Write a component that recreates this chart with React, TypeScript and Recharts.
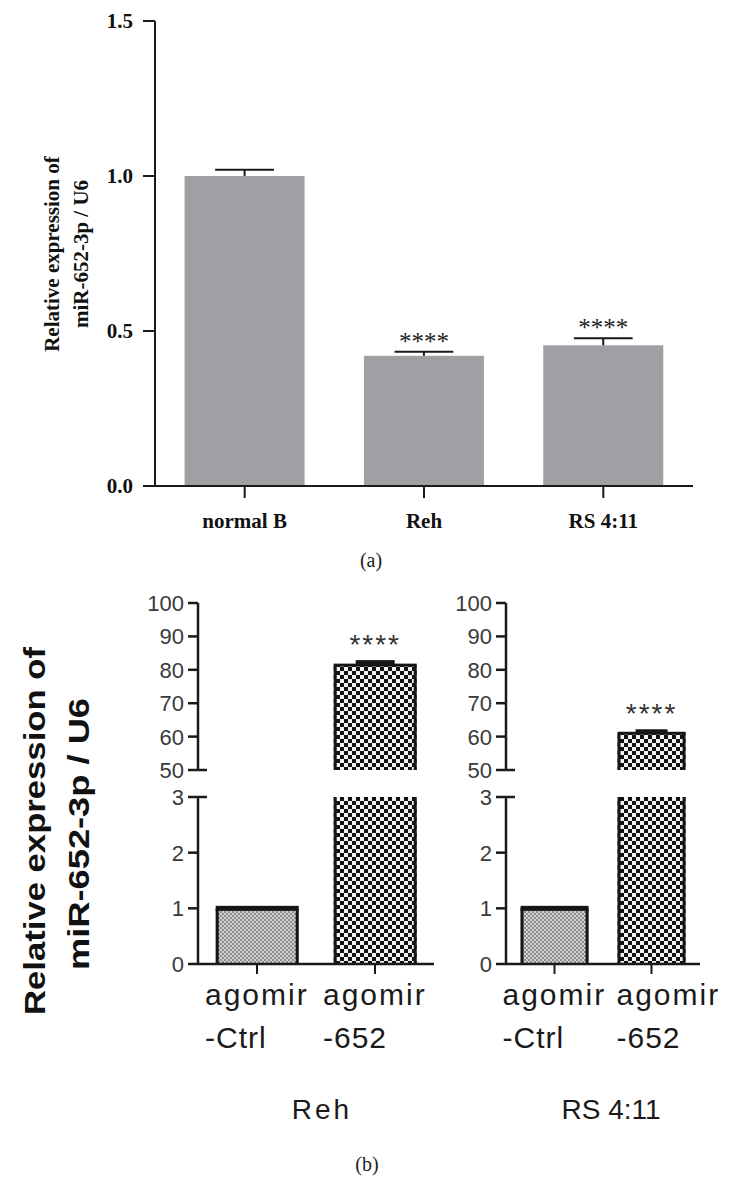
import React from 'react';
import { BarChart, Bar, XAxis, YAxis } from 'recharts';

const SERIF = '"Liberation Serif", "Times New Roman", Times, serif';
const SANS = '"Liberation Sans", Arial, Helvetica, sans-serif';

// ---------- Panel (a) data ----------
const cellTypesA = ['normal B', 'Reh', 'RS 4:11'];
const meanA = [1.0, 0.42, 0.454];
const semA = [0.02, 0.013, 0.023];
const starsA = ['', '****', '****'];
const yTicksA = [0, 0.5, 1.0, 1.5];

// ---------- Panel (b) data ----------
const treatmentsB = ['agomir-Ctrl', 'agomir-652'];
const treatmentLabelLines = [
  ['agomir', '-Ctrl'],
  ['agomir', '-652'],
];
const meanReh = [1.0, 81.4];
const semReh = [0.05, 1.5];
const meanRS = [1.0, 61.0];
const semRS = [0.05, 1.2];
const starsB = ['', '****'];
const upperTicksB = [50, 60, 70, 80, 90, 100];
const lowerTicksB = [0, 1, 2, 3];
const upperDomainB: [number, number] = [50, 100];
const lowerDomainB: [number, number] = [0, 3];

// ---------- Panel (a) ----------
function BarA(props: any) {
  const { x, y, width, height, payload } = props;
  if (!(height > 0)) return <g />;
  const perUnit = height / payload.value;
  const errY = y - payload.err * perUnit;
  const cx = x + width / 2;
  const capHalf = width * 0.245;
  return (
    <g>
      <rect x={x} y={y} width={width} height={height} fill="#a0a0a4" />
      <line x1={cx} y1={y} x2={cx} y2={errY} stroke="#1a1a1a" strokeWidth={2} />
      <line x1={cx - capHalf} y1={errY} x2={cx + capHalf} y2={errY} stroke="#1a1a1a" strokeWidth={2} />
      {payload.stars ? (
        <text x={cx} y={errY - 2} textAnchor="middle" fontFamily={SERIF} fontSize={25} fill="#222">
          {payload.stars}
        </text>
      ) : null}
    </g>
  );
}

function PanelA() {
  const data = cellTypesA.map((name, i) => ({ name, value: meanA[i], err: semA[i], stars: starsA[i] }));
  return (
    <div style={{ position: 'absolute', left: 0, top: 0 }}>
      <BarChart
        width={740}
        height={540}
        data={data}
        margin={{ top: 21, right: 47, bottom: 0, left: 95 }}
        barCategoryGap="16.5%"
      >
        <XAxis
          dataKey="name"
          height={54}
          interval={0}
          tickSize={12}
          tickMargin={15}
          tickLine={{ stroke: '#1a1a1a', strokeWidth: 2 }}
          axisLine={{ stroke: '#1a1a1a', strokeWidth: 2 }}
          tick={{ fontFamily: SERIF, fontWeight: 700, fontSize: 21, fill: '#111' }}
        />
        <YAxis
          domain={[0, 1.5]}
          ticks={yTicksA}
          interval={0}
          width={60}
          tickSize={12}
          tickMargin={10}
          tickFormatter={(v: number) => v.toFixed(1)}
          tickLine={{ stroke: '#1a1a1a', strokeWidth: 2 }}
          axisLine={{ stroke: '#1a1a1a', strokeWidth: 2 }}
          tick={{ fontFamily: SERIF, fontWeight: 700, fontSize: 21, fill: '#111' }}
        />
        <Bar dataKey="value" shape={BarA} isAnimationActive={false} />
      </BarChart>
    </div>
  );
}

// ---------- Panel (b) ----------
function makeBarB(base: number, top: number) {
  return (props: any) => {
    const { x, y, width, height, payload } = props;
    if (payload.value <= base || !(height > 0)) return <g />;
    const perUnit = height / (payload.value - base);
    const errY = y - payload.err * perUnit;
    const cx = x + width / 2;
    const isCtrl = payload.idx === 0;
    const inRange = payload.value <= top;
    const side = 3;
    const topW = isCtrl ? 5 : 3;
    const capW = width * 0.47;
    const yTop = Math.max(y, -20);
    const h = y + height - yTop;
    return (
      <g>
        <rect x={x} y={yTop} width={width} height={h} fill={isCtrl ? 'url(#fineGray)' : 'url(#coarseCheck)'} />
        <rect x={x} y={yTop} width={side} height={h} fill="#161616" />
        <rect x={x + width - side} y={yTop} width={side} height={h} fill="#161616" />
        {inRange ? <rect x={x} y={y - topW / 2} width={width} height={topW} fill="#161616" /> : null}
        {inRange && !isCtrl ? (
          <rect x={cx - capW / 2} y={errY} width={capW} height={y - errY} fill="#161616" />
        ) : null}
        {inRange && payload.stars ? (
          <text
            x={cx}
            y={errY - 6}
            textAnchor="middle"
            fontFamily={SANS}
            fontSize={28}
            letterSpacing={2}
            fill="#333"
          >
            {payload.stars}
          </text>
        ) : null}
      </g>
    );
  };
}

function makeYTick(breakValue: number) {
  return (props: any) => {
    const { x, y, payload } = props;
    const ext = payload.value === breakValue ? 9 : 0;
    return (
      <g>
        <line x1={x - 10} y1={y} x2={x + ext} y2={y} stroke="#1a1a1a" strokeWidth={2.5} />
        <text x={x - 14} y={y} dy="0.36em" textAnchor="end" fontFamily={SANS} fontSize={22} fill="#3a3a3a">
          {payload.value}
        </text>
      </g>
    );
  };
}

function makeXTick(shift: number[]) {
  return (props: any) => {
    const { x, y, payload } = props;
    const i = treatmentsB.indexOf(payload.value);
    const lines = treatmentLabelLines[i] || [String(payload.value), ''];
    const tx = x - 52 + (shift[i] || 0);
    return (
      <g>
        <text x={tx} y={y + 31} fontFamily={SANS} fontSize={30} letterSpacing={2} fill="#1a1a1a">
          {lines[0]}
        </text>
        <text x={tx} y={y + 74} fontFamily={SANS} fontSize={30} letterSpacing={1} fill="#1a1a1a">
          {lines[1]}
        </text>
      </g>
    );
  };
}

type PanelProps = {
  means: number[];
  sems: number[];
  plotLeft: number;
  plotRight: number;
  labelShift: number[];
};

function BrokenAxisPanel(p: PanelProps) {
  const data = treatmentsB.map((name, i) => ({
    name,
    value: p.means[i],
    err: p.sems[i],
    stars: starsB[i],
    idx: i,
  }));
  const side = { left: p.plotLeft - 60, right: 740 - p.plotRight };
  const axisStyle = { stroke: '#1a1a1a', strokeWidth: 2.5 };
  return (
    <>
      <div style={{ position: 'absolute', left: 0, top: 583 }}>
        <BarChart width={740} height={200} data={data} margin={{ top: 20, bottom: 13, ...side }} barCategoryGap="15%">
          <XAxis dataKey="name" hide />
          <YAxis
            domain={upperDomainB}
            allowDataOverflow
            ticks={upperTicksB}
            interval={0}
            width={60}
            tickLine={false}
            tickSize={0}
            tickMargin={0}
            axisLine={axisStyle}
            tick={makeYTick(50)}
          />
          <Bar dataKey="value" shape={makeBarB(upperDomainB[0], upperDomainB[1])} isAnimationActive={false} />
        </BarChart>
      </div>
      <div style={{ position: 'absolute', left: 0, top: 777 }}>
        <BarChart width={740} height={370} data={data} margin={{ top: 20, bottom: 0, ...side }} barCategoryGap="15%">
          <XAxis
            dataKey="name"
            height={183}
            interval={0}
            tickSize={10}
            tickMargin={0}
            tickLine={{ stroke: '#1a1a1a', strokeWidth: 2 }}
            axisLine={axisStyle}
            tick={makeXTick(p.labelShift)}
          />
          <YAxis
            domain={lowerDomainB}
            allowDataOverflow
            ticks={lowerTicksB}
            interval={0}
            width={60}
            tickLine={false}
            tickSize={0}
            tickMargin={0}
            axisLine={axisStyle}
            tick={makeYTick(3)}
          />
          <Bar dataKey="value" shape={makeBarB(lowerDomainB[0], lowerDomainB[1])} isAnimationActive={false} />
        </BarChart>
      </div>
    </>
  );
}

function Patterns() {
  return (
    <svg width={0} height={0} style={{ position: 'absolute', left: 0, top: 0 }}>
      <defs>
        <pattern id="fineGray" width={4} height={4} patternUnits="userSpaceOnUse">
          <rect width={4} height={4} fill="#8c8c8c" />
          <rect width={2} height={2} fill="#d2d2d2" />
          <rect x={2} y={2} width={2} height={2} fill="#d2d2d2" />
        </pattern>
        <pattern id="coarseCheck" width={8} height={8} patternUnits="userSpaceOnUse">
          <rect width={8} height={8} fill="#f2f2f2" />
          <rect width={4} height={4} fill="#111" />
          <rect x={4} y={4} width={4} height={4} fill="#111" />
        </pattern>
      </defs>
    </svg>
  );
}

function Overlay() {
  return (
    <svg width={740} height={1190} style={{ position: 'absolute', left: 0, top: 0, pointerEvents: 'none' }}>
      {/* panel (a) y label */}
      <g transform="translate(59,254) rotate(-90)">
        <text x={0} y={0} textAnchor="middle" fontFamily={SERIF} fontWeight={700} fontSize={21} fill="#111">
          Relative expression of
        </text>
      </g>
      <g transform="translate(88,254) rotate(-90)">
        <text x={0} y={0} textAnchor="middle" fontFamily={SERIF} fontWeight={700} fontSize={21} fill="#111">
          miR-652-3p / U6
        </text>
      </g>
      <text x={371} y={567} textAnchor="middle" fontFamily={SERIF} fontSize={20} fill="#222">
        (a)
      </text>

      {/* panel (b) y label */}
      <g transform="translate(45,831) rotate(-90)">
        <text
          x={0}
          y={0}
          textAnchor="middle"
          fontFamily={SANS}
          fontWeight={700}
          fontSize={30}
          textLength={368}
          lengthAdjust="spacingAndGlyphs"
          fill="#111"
        >
          Relative expression of
        </text>
      </g>
      <g transform="translate(89,834) rotate(-90)">
        <text
          x={0}
          y={0}
          textAnchor="middle"
          fontFamily={SANS}
          fontWeight={700}
          fontSize={30}
          textLength={272}
          lengthAdjust="spacingAndGlyphs"
          fill="#111"
        >
          miR-652-3p / U6
        </text>
      </g>

      <text x={322} y={1119} textAnchor="middle" fontFamily={SANS} fontSize={28} letterSpacing={3} fill="#1a1a1a">
        Reh
      </text>
      <text x={611} y={1119} textAnchor="middle" fontFamily={SANS} fontSize={28} fill="#1a1a1a">
        RS 4:11
      </text>
      <text x={367} y={1171} textAnchor="middle" fontFamily={SERIF} fontSize={20} fill="#222">
        (b)
      </text>
    </svg>
  );
}

export default function App() {
  return (
    <div style={{ position: 'absolute', left: 0, top: 0, width: 740, height: 1190, background: '#fff', overflow: 'hidden' }}>
      <Patterns />
      <PanelA />
      <BrokenAxisPanel means={meanReh} sems={semReh} plotLeft={198} plotRight={434} labelShift={[0, 0]} />
      <BrokenAxisPanel means={meanRS} sems={semRS} plotLeft={506} plotRight={700} labelShift={[0, 17]} />
      <Overlay />
    </div>
  );
}
